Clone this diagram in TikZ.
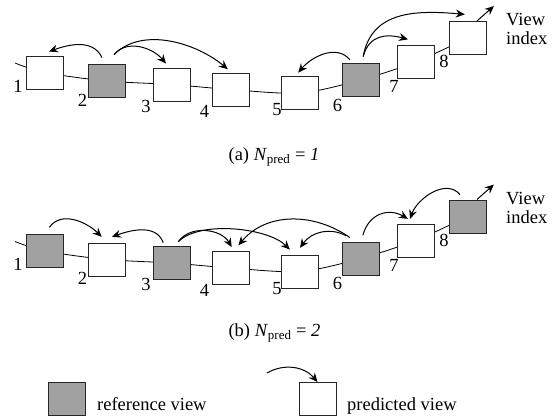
\documentclass[tikz,border=0pt]{standalone}
\usepackage{fontspec}
\setmainfont{Liberation Serif}
\usepackage{tikz}
\usetikzlibrary{positioning}
\usetikzlibrary{arrows.meta}
\usetikzlibrary{backgrounds}
\colorlet{refgray}{black!37}
\tikzstyle{viewbox}=[rectangle,draw=black!85,line width=0.9pt,minimum width=37pt,minimum height=33pt,inner sep=0pt]
\tikzstyle{viewnum}=[inner sep=0pt]
\tikzstyle{pred}=[-{Stealth[length=9pt,width=8pt,inset=3pt]}, line width=1pt]
\tikzstyle{chain}=[line width=0.8pt]
\tikzset{legtext/.style={inner sep=1pt,anchor=base west}}
\tikzset{vindex/.style={align=left,anchor=west,inner sep=1pt,font=\fontsize{18.5}{19}\selectfont}}

\begin{document}
\begin{tikzpicture}[x=1pt,y=1pt,font=\fontsize{18.5}{21}\selectfont]
  \useasboundingbox (0,0) rectangle (557,418);

  % (a) views, one reference per group
  \coordinate (sa) at (15,355);
  \foreach \x/\y/\name/\fc/\num/\lx/\ly in {44.5/345.5/a1/white/1/18/332, 106.5/337/a2/refgray/2/82.5/318,
      171.5/333.5/a3/white/3/146/312, 230.5/328.5/a4/white/4/204.5/306.5, 300/325/a5/white/5/277/308,
      360.5/338/a6/refgray/6/337.5/313, 415.5/356/a7/white/7/394/331.5, 467.5/380/a8/white/8/444/356.5}
  {
    \node[viewbox,fill=\fc] (\name) at (\x,\y) {};
    \node[viewnum] (n\name) at (\lx,\ly) {\num};
  }
  \coordinate[above right=15pt and 17pt of a8.61] (va);
  \node[vindex] (vta) at (505,389) {View\\index};

  % (b) same views, shifted down
  \begin{scope}[yshift=-178.5pt]
  \coordinate (sb) at (15,355);
  \foreach \x/\y/\name/\fc/\num/\lx/\ly in {44.5/345.5/b1/refgray/1/18/332, 106.5/337/b2/white/2/82.5/318,
      171.5/333.5/b3/refgray/3/146/312, 230.5/328.5/b4/white/4/204.5/306.5, 300/325/b5/white/5/277/308,
      360.5/338/b6/refgray/6/337.5/313, 415.5/356/b7/white/7/394/331.5, 467.5/380/b8/refgray/8/444/356.5}
  {
    \node[viewbox,fill=\fc] (\name) at (\x,\y) {};
    \node[viewnum] (n\name) at (\lx,\ly) {\num};
  }
  \node[vindex] (vtb) at (505,389) {View\\index};
  \end{scope}
  \coordinate[above right=15pt and 17pt of b8.61] (vb);

  % camera path behind the boxes
  \begin{scope}[on background layer]
    \draw[chain] plot[smooth] coordinates {(sa) (a1.center) (a2.center) (a3.center) (a4.center)
      (a5.center) (a6.center) (a7.center) (a8.center)};
    \draw[chain] plot[smooth] coordinates {(sb) (b1.center) (b2.center) (b3.center) (b4.center)
      (b5.center) (b6.center) (b7.center) (b8.center)};
  \end{scope}

  % prediction arcs (a)
  \draw[pred] ([yshift=6.5pt]a2.105) to[out=115,in=20] ([yshift=4pt]a1.75);
  \draw[pred] ([yshift=9.5pt]a2.66) to[out=50,in=130] ([yshift=4pt]a3.108);
  \draw[pred] ([yshift=9.5pt]a2.66) to[out=45,in=140,looseness=0.9] ([yshift=3.3pt]a4.99);
  \draw[pred] ([yshift=3.3pt]a6.122) to[out=130,in=50] ([yshift=3.4pt]a5.96);
  \draw[pred] ([yshift=6.5pt]a6.81) to[out=75,in=165,looseness=1.2] ([yshift=5.7pt]a7.114);
  \draw[pred] ([yshift=6.5pt]a6.81) to[out=80,in=175,looseness=1.1] ([yshift=6.7pt]a8.99);
  \draw[pred] (a8.61) -- (va);

  % prediction arcs (b)
  \draw[pred] ([yshift=6.7pt]b1.74) to[out=55,in=135] ([yshift=5.7pt]b2.106);
  \draw[pred] ([yshift=3.4pt]b3.116) to[out=110,in=20] ([yshift=5.7pt]b2.72);
  \draw[pred] ([yshift=4.4pt]b3.68) to[out=55,in=120] ([yshift=4pt]b4.86);
  \draw[pred] ([yshift=4.4pt]b3.68) to[out=45,in=135,looseness=0.7] ([yshift=5pt]b5.121);
  \draw[pred] ([yshift=4pt]b6.122) to[out=145,in=50] ([yshift=5.7pt]b4.65);
  \draw[pred] ([yshift=5.6pt]b6.130) to[out=150,in=55] ([yshift=6.7pt]b5.90);
  \draw[pred] ([yshift=6.3pt]b6.82) to[out=75,in=150,looseness=1.2] ([yshift=4.7pt]b7.114);
  \draw[pred] ([yshift=5pt]b8.114) to[out=130,in=70] ([yshift=4.7pt]b7.108);
  \draw[pred] (b8.61) -- (vb);

  % captions
  \node (capa) at (274,261) {(a) \textit{N}\textsubscript{pred} = \textit{1}};
  \node (capb) at (274.5,85) {(b) \textit{N}\textsubscript{pred} = \textit{2}};

  % legend
  \node[viewbox,fill=refgray] (lref) at (67,19) {};
  \node[legtext] (lreft) at (96,8) {reference view};
  \node[viewbox,fill=white] (lpred) at (317.5,19) {};
  \node[legtext] (lpredt) at (346,8) {predicted view};
  \coordinate (lfrom) at (267,45);
  \draw[pred] (lfrom) to[out=30,in=130] (lpred.north);
\end{tikzpicture}
\end{document}
